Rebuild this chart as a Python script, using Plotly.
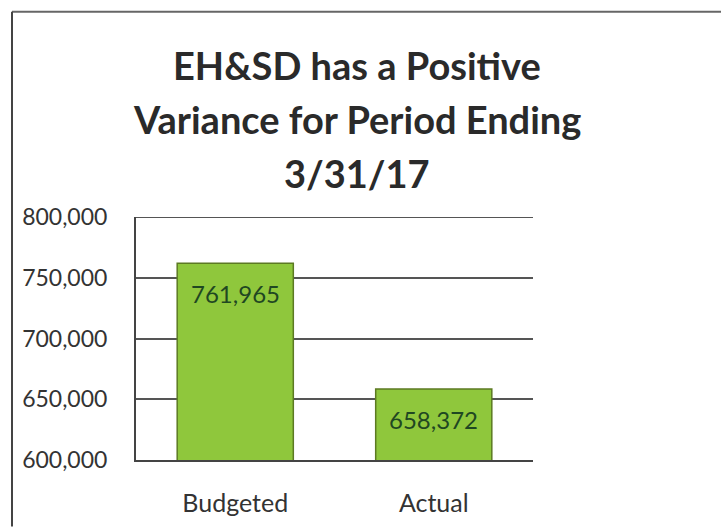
import plotly.graph_objects as go

categories = ["Budgeted", "Actual"]
values = [761965, 658372]
tick_vals = [600000, 650000, 700000, 750000, 800000]
tick_text = ["600,000", "650,000", "700,000", "750,000", "800,000"]
title_lines = ["EH&SD has a Positive", "Variance for Period Ending", "3/31/17"]

W, H = 721, 529
L, R, T, B = 136, 188, 217, 67
pw, ph = W - L - R, H - T - B
FONT = "Lato, Open Sans, sans-serif"

def px_x(x):
    return (x - L) / pw

def px_y(y):
    return (H - B - y) / ph

fig = go.Figure(
    go.Bar(
        x=categories,
        y=values,
        base=0,
        marker=dict(
            color="#8fc73c",
            line=dict(color="#5c7a22", width=1.5),
        ),
        hoverinfo="x+y",
    )
)

# value labels inside each bar, near its top
for cat, v in zip(categories, values):
    fig.add_annotation(
        x=cat, y=v, text=f"{v:,}", showarrow=False,
        xanchor="center", yanchor="middle", yshift=-30,
        font=dict(family=FONT, size=24, color="#1f4722"),
    )

# three-line bold heading
title_centers = [64, 118, 173]
for line, yc in zip(title_lines, title_centers):
    fig.add_annotation(
        xref="paper", yref="paper", x=px_x(357), y=px_y(yc),
        text=f"<b>{line}</b>", showarrow=False,
        xanchor="center", yanchor="middle",
        font=dict(family=FONT, size=38, color="#2a2a2a"),
    )

fig.update_layout(
    width=W,
    height=H,
    margin=dict(l=L, r=R, t=T, b=B),
    paper_bgcolor="white",
    plot_bgcolor="white",
    showlegend=False,
    bargap=0.415,
    font=dict(family=FONT, color="#333333"),
)

fig.update_yaxes(
    range=[tick_vals[0], tick_vals[-1]],
    tickvals=tick_vals,
    ticktext=tick_text,
    tickfont=dict(size=23, color="#333333"),
    showgrid=True,
    gridcolor="#555555",
    gridwidth=2,
    showline=True,
    linecolor="#444444",
    linewidth=2,
    ticks="",
    ticklabelstandoff=22,
    zeroline=False,
)
fig.update_xaxes(
    tickfont=dict(size=25, color="#333333"),
    showline=True,
    linecolor="#444444",
    linewidth=2,
    ticks="",
    ticklabelstandoff=20,
)

# top gridline at the axis maximum (plotly skips the grid at the range edge)
fig.add_shape(type="line", xref="paper", yref="y",
              x0=0, x1=1, y0=tick_vals[-1], y1=tick_vals[-1],
              line=dict(color="#555555", width=2), layer="below")

# outer frame: top and left edges of the chart box
fig.add_shape(type="line", xref="paper", yref="paper",
              x0=px_x(12), x1=px_x(W), y0=px_y(10), y1=px_y(10),
              line=dict(color="#666666", width=2))
fig.add_shape(type="line", xref="paper", yref="paper",
              x0=px_x(12), x1=px_x(12), y0=px_y(10), y1=px_y(H),
              line=dict(color="#444444", width=2))

fig.write_html("out.html")
